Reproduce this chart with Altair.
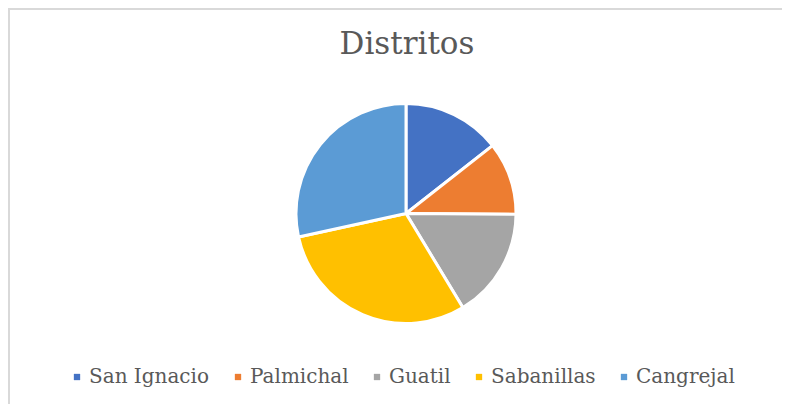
import altair as alt
import pandas as pd

distritos = ["San Ignacio", "Palmichal", "Guatil", "Sabanillas", "Cangrejal"]
valores = [14.4, 10.7, 16.2, 30.2, 28.4]
colores = ["#4472C4", "#ED7D31", "#A5A5A5", "#FFC000", "#5B9BD5"]
titulo = "Distritos"

df = pd.DataFrame({"distrito": distritos, "valor": valores, "orden": list(range(len(distritos)))})

W, H = 774, 396
FONT = "DejaVu Serif"
one = pd.DataFrame({"a": [0]})

left_edge = alt.Chart(one).mark_rule(stroke="#d9d9d9", strokeWidth=2).encode(
    x=alt.value(1), y=alt.value(0), y2=alt.value(H)
)
top_edge = alt.Chart(one).mark_rule(stroke="#d9d9d9", strokeWidth=2).encode(
    x=alt.value(0), x2=alt.value(W), y=alt.value(1)
)

title = alt.Chart(pd.DataFrame({"t": [titulo]})).mark_text(
    font=FONT, fontSize=31, color="#595959", align="center", baseline="alphabetic"
).encode(text="t:N", x=alt.value(399), y=alt.value(46))

pie = alt.Chart(df).mark_arc(radius=110, stroke="white", strokeWidth=3).encode(
    theta=alt.Theta("valor:Q", stack=True),
    order=alt.Order("orden:Q"),
    color=alt.Color(
        "distrito:N",
        sort=distritos,
        scale=alt.Scale(domain=distritos, range=colores),
        legend=alt.Legend(
            title=None, orient="none", direction="horizontal",
            legendX=59, legendY=359,
            symbolType="square", symbolSize=40, symbolStrokeWidth=0,
            labelFont=FONT, labelFontSize=20, labelColor="#595959",
            labelOffset=2, columnPadding=18,
        ),
    ),
    x=alt.value(398), y=alt.value(205.5),
)

chart = alt.layer(left_edge, top_edge, title, pie).properties(
    width=W, height=H, padding=0, autosize="none", background="white"
).configure_view(stroke="transparent", strokeWidth=0)

chart.save("out.html", embed_options={"renderer": "svg", "actions": False})
